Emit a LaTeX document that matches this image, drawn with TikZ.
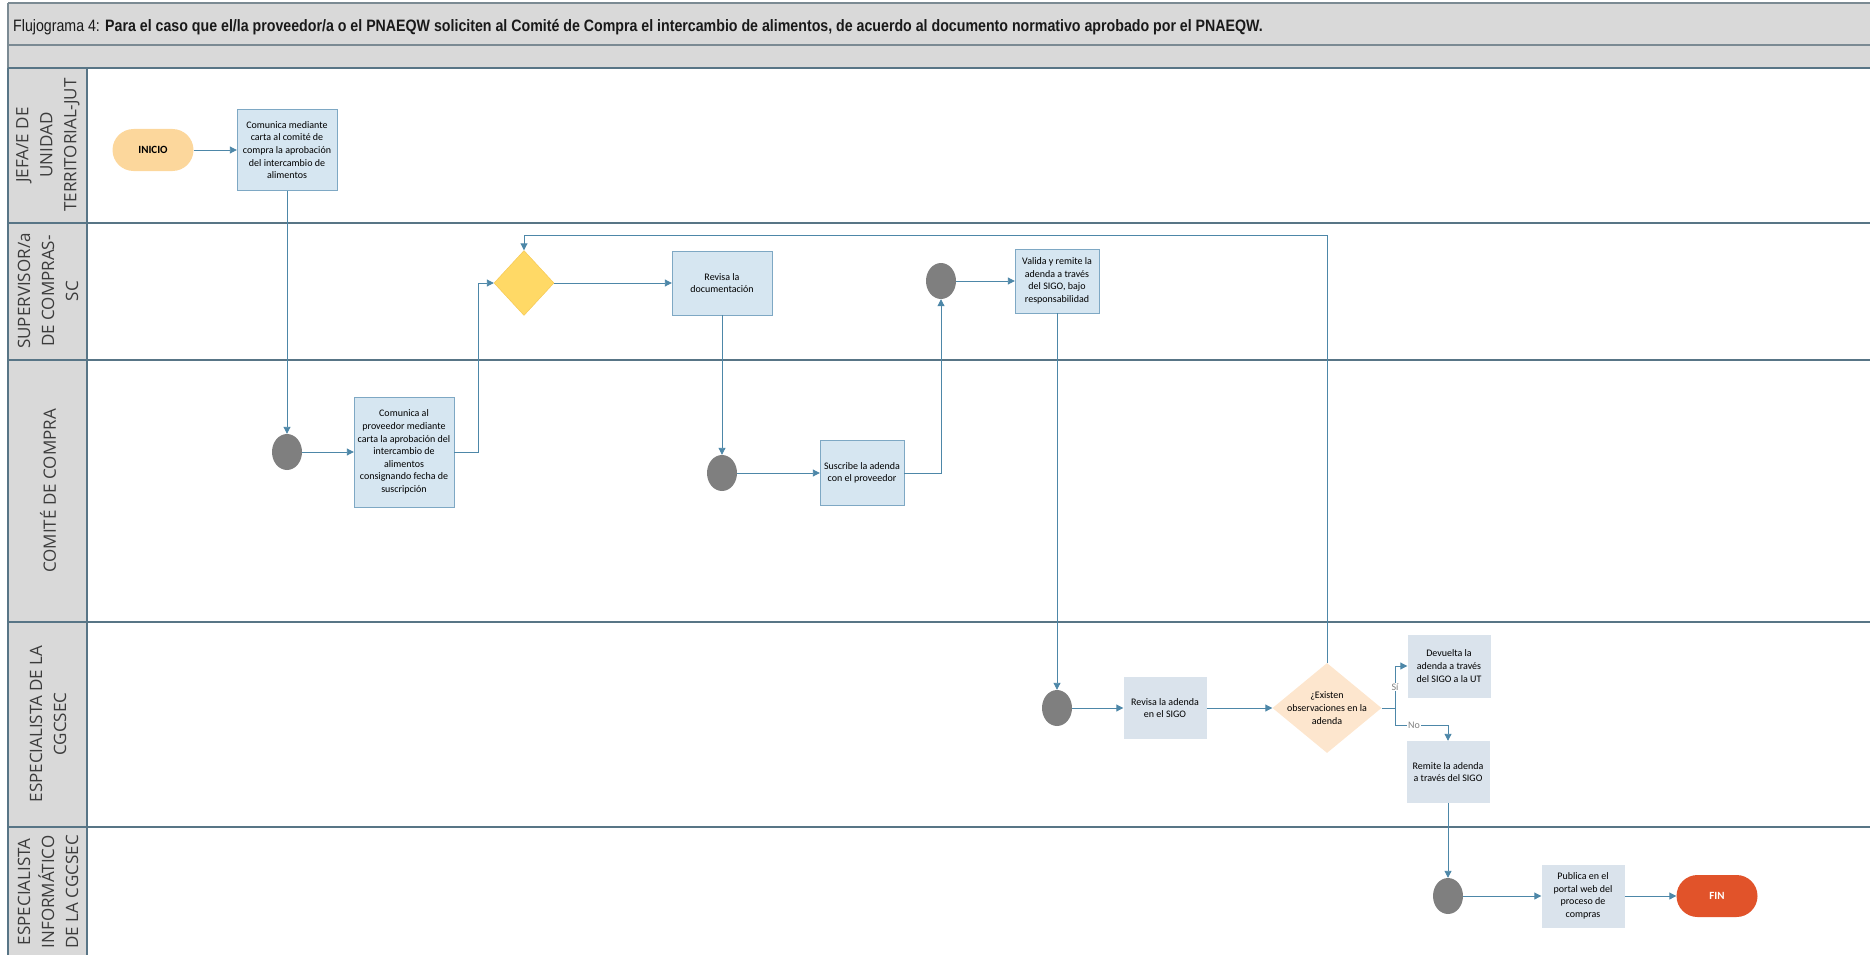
\documentclass[tikz,border=0pt]{standalone}
\usepackage{fontspec}
\setmainfont{Carlito}
\newfontfamily\titlefont[FakeStretch=0.86]{Liberation Sans}
\newfontfamily\lanefont{Open Sans}
\usetikzlibrary{arrows.meta,shapes.geometric,positioning}

\definecolor{bandgray}{HTML}{D9D9D9}
\definecolor{bandline}{HTML}{7B8A93}
\definecolor{laneline}{HTML}{587586}
\definecolor{lanetext}{HTML}{3C3C3C}
\definecolor{boxfill}{HTML}{D6E6F1}
\definecolor{boxdraw}{HTML}{7EA8C4}
\definecolor{grayfill}{HTML}{DAE3EC}
\definecolor{flowc}{HTML}{4D87A8}
\definecolor{evtgray}{HTML}{7F7F7F}
\definecolor{iniciofill}{HTML}{FCD79C}
\definecolor{finfill}{HTML}{E1532A}
\definecolor{decfill}{HTML}{FFD966}
\definecolor{decdraw}{HTML}{F4C54F}
\definecolor{obsfill}{HTML}{FDE6CE}

\begin{document}
\begin{tikzpicture}[
			x=1pt, y=-1pt,
			boxtxt/.style={align=center, inner sep=2pt, font=\fontsize{10}{12.6}\selectfont},
			proc/.style={rectangle, draw=boxdraw, fill=boxfill, boxtxt},
			procg/.style={rectangle, fill=grayfill, boxtxt},
			evt/.style={ellipse, fill=evtgray, minimum width=30pt, minimum height=36pt, inner sep=0pt},
			term/.style={rectangle, rounded corners=21pt, minimum width=81pt, minimum height=42pt, font=\bfseries\fontsize{11}{13}\selectfont},
			flow/.style={draw=flowc, line width=0.9pt, -{Triangle[width=7pt,length=7pt]}},
			lbl/.style={fill=white, text=gray, inner sep=1pt, font=\fontsize{10}{12}\selectfont},
			lanetxt/.style={rotate=90, align=center, text=lanetext, font=\lanefont\fontsize{17}{24}\selectfont}
			]
			
			\useasboundingbox (0,0) rectangle (1870,955);
			\clip (0,0) rectangle (1870,955);
			
			% title bands
			\fill[bandgray] (8,3) rectangle (1875,68);
			\draw[bandline, line width=1.5pt] (8,3) -- (1875,3) (8,45) -- (1875,45);
			\draw[bandline, line width=1.5pt] (8,3) -- (8,68);
			\node[anchor=base west, inner sep=0pt, text=black!90, font=\titlefont\fontsize{16.5}{19}\selectfont] (title) at (13,32)
				{Flujograma 4: \textbf{Para el caso que el/la proveedor/a o el PNAEQW soliciten al Comité de Compra el intercambio de alimentos, de acuerdo al documento normativo aprobado por el PNAEQW.}};
			
			% lanes
			\fill[bandgray] (8,68) rectangle (87,1000);
			\draw[laneline, line width=1.5pt] (8,68) -- (1875,68);
			\foreach \y in {223,360,622,827}
				\draw[laneline, line width=1.5pt] (8,\y) -- (1875,\y);
			\draw[laneline, line width=1.2pt] (8,68) -- (8,1000) (87,68) -- (87,1000);
			
			\node[lanetxt] (jut) at (48,145) {JEFA/E DE\\UNIDAD\\TERRITORIAL-JUT};
			\node[lanetxt] (sc) at (48,291) {SUPERVISOR/a\\DE COMPRAS-\\SC};
			\node[lanetxt] (cc) at (48,491) {COMITÉ DE COMPRA};
			\node[lanetxt] (esp) at (48,724) {ESPECIALISTA DE LA\\CGCSEC};
			\node[lanetxt, anchor=east, inner sep=0pt] (inf) at (48,835) {ESPECIALISTA\\INFORMÁTICO\\DE LA CGCSEC};
			
			% nodes
			\node[term, fill=iniciofill] (inicio) at (153,150) {INICIO};
			\node[proc, minimum width=100pt, minimum height=81pt] (carta) at (287,150) {Comunica mediante\\carta al comité de\\compra la aprobación\\del intercambio de\\alimentos};
			\node[evt] (ev1) at (287,452) {};
			\node[proc, minimum width=100pt, minimum height=110pt] (comprov) at (404,452) {Comunica al\\proveedor mediante\\carta la aprobación del\\intercambio de\\alimentos\\consignando fecha de\\suscripción};
			\node[diamond, fill=decfill, draw=decdraw, minimum width=60pt, minimum height=65pt, inner sep=0pt] (dec) at (524,283) {};
			\node[proc, minimum width=100pt, minimum height=64pt] (revdoc) at (722,283) {Revisa la\\documentación};
			\node[evt] (ev2) at (722,473) {};
			\node[proc, minimum width=84pt, minimum height=65pt] (susc) at (862,473) {Suscribe la adenda\\con el proveedor};
			\node[evt] (ev3) at (941,281) {};
			\node[proc, minimum width=84pt, minimum height=64pt] (valida) at (1057,281) {Valida y remite la\\adenda a través\\del SIGO, bajo\\responsabilidad};
			\node[evt] (ev4) at (1057,708) {};
			\node[procg, minimum width=83pt, minimum height=62pt] (revsigo) at (1165,708) {Revisa la adenda\\en el SIGO};
			\node[diamond, fill=obsfill, minimum width=109pt, minimum height=90pt, inner sep=0pt] (obs) at (1327,708) {};
			\node[boxtxt] (obstxt) at (obs.center) {¿Existen\\observaciones en la\\adenda};
			\node[procg, minimum width=83pt, minimum height=63pt] (devuelta) at (1449,666) {Devuelta la\\adenda a través\\del SIGO a la UT};
			\node[procg, minimum width=83pt, minimum height=62pt] (remite) at (1448,772) {Remite la adenda\\a través del SIGO};
			\node[evt] (ev5) at (1448,896) {};
			\node[procg, minimum width=83pt, minimum height=63pt] (publica) at (1583,896) {Publica en el\\portal web del\\proceso de\\compras};
			\node[term, fill=finfill, text=white] (fin) at (1717,896) {FIN};
			
			\coordinate (loop) at (1327,235);
			\coordinate (split) at (1395,708);
			\coordinate (nob) at (1448,725);
			
			% connectors
			\draw[flow] (inicio) -- (carta);
			\draw[flow] (carta.south) -- (ev1.north);
			\draw[flow] (ev1) -- (comprov);
			\draw[flow] (comprov.east) -- ++(24,0) |- (dec.west);
			\draw[flow] (dec.east) -- (revdoc.west);
			\draw[flow] (revdoc.south) -- (ev2.north);
			\draw[flow] (ev2) -- (susc);
			\draw[flow] (susc.east) -| (ev3.south);
			\draw[flow] (ev3) -- (valida);
			\draw[flow] (valida.south) -- (ev4.north);
			\draw[flow] (ev4) -- (revsigo);
			\draw[flow] (revsigo) -- (obs.west);
			\draw[flow] (obs.north) -- (loop) -| (dec.north);
			\draw[draw=flowc, line width=0.9pt] (obs.east) -- (split);
			\draw[flow] (split) |- node[lbl, pos=0.25] {Sí} (devuelta.west);
			\draw[flow] (split) |- node[lbl, pos=0.68] {No} (nob) -- (remite.north);
			\draw[flow] (remite.south) -- (ev5.north);
			\draw[flow] (ev5) -- (publica);
			\draw[flow] (publica) -- (fin);
		\end{tikzpicture}
\end{document}
